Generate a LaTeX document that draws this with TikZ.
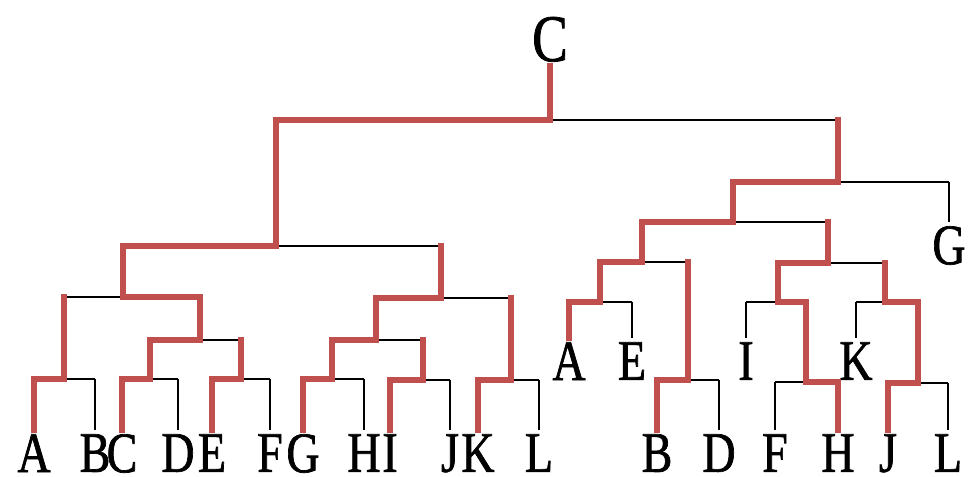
\documentclass[tikz,border=0pt]{standalone}
\usepackage{fontspec}
\newfontfamily\treefont[FakeStretch=0.8, FakeBold=1.2]{Liberation Serif}
\definecolor{pathred}{HTML}{C0504D}
\tikzset{
    lbl/.style={font=\treefont\fontsize{43}{43}\selectfont, inner sep=3pt, anchor=north},
    toplbl/.style={font=\treefont\fontsize{50}{50}\selectfont, inner sep=3pt, anchor=south},
    blackline/.style={black, line width=1.3pt},
    redline/.style={pathred, line width=4.9pt, line cap=rect}
}

\begin{document}
\begin{tikzpicture}[x=0.75pt, y=-0.75pt]
    \useasboundingbox (0,0) rectangle (968,477);
    \node[toplbl] (C) at (550,66) {C};
    \coordinate (j0) at (550,120);
    \coordinate (j1) at (276,246);
    \coordinate (j2) at (123,297);
    \coordinate (j3) at (441,298);
    \coordinate (j4) at (64,379);
    \coordinate (j5) at (200,340);
    \coordinate (j6) at (150,379);
    \coordinate (j7) at (241,379);
    \coordinate (j8) at (376,340);
    \coordinate (j9) at (511,380);
    \coordinate (j10) at (332,379);
    \coordinate (j11) at (423,380);
    \coordinate (jR) at (838,182);
    \coordinate (k1) at (733,222);
    \coordinate (k2) at (642,262);
    \coordinate (k3) at (828,263);
    \coordinate (k4) at (600,302);
    \coordinate (k5) at (688,380);
    \coordinate (k6) at (778,302);
    \coordinate (k7) at (885,302);
    \coordinate (k8) at (806,382);
    \coordinate (k9) at (918,383);

    \node[lbl] (lA) at (34,430) {A};
    \node[lbl] (lB) at (95,430) {B};
    \node[lbl] (lC) at (122,430) {C};
    \node[lbl] (lD) at (178,430) {D};
    \node[lbl] (lE) at (212,430) {E};
    \node[lbl] (lF) at (270,430) {F};
    \node[lbl] (lG) at (303,430) {G};
    \node[lbl] (lH) at (364,430) {H};
    \node[lbl] (lI) at (390,430) {I};
    \node[lbl] (lJ) at (450,430) {J};
    \node[lbl] (lK) at (478,430) {K};
    \node[lbl] (lL) at (539,430) {L};
    \node[lbl] (rG) at (949,222) {G};
    \node[lbl] (rA) at (569,338) {A};
    \node[lbl] (rE) at (632,338) {E};
    \node[lbl] (rI) at (746,338) {I};
    \node[lbl] (rK) at (856,338) {K};
    \node[lbl] (rB) at (657,430) {B};
    \node[lbl] (rD) at (719,430) {D};
    \node[lbl] (rF) at (775,430) {F};
    \node[lbl] (rH) at (838,430) {H};
    \node[lbl] (rJ) at (888,430) {J};
    \node[lbl] (rL) at (948,430) {L};

    \foreach \p/\c/\h/\v in {
        j4/lB/blackline/blackline, j6/lD/blackline/blackline, j7/lF/blackline/blackline,
        j10/lH/blackline/blackline, j11/lJ/blackline/blackline, j9/lL/blackline/blackline,
        jR/rG/blackline/blackline, k4/rE/blackline/blackline, k5/rD/blackline/blackline,
        k6/rI/blackline/blackline, k8/rF/blackline/blackline, k7/rK/blackline/blackline,
        k9/rL/blackline/blackline,
        j0/jR/blackline/redline, j1/j3/blackline/redline, j2/j4/blackline/redline,
        j5/j7/blackline/redline, j3/j9/blackline/redline, j8/j11/blackline/redline,
        k1/k3/blackline/redline, k2/k5/blackline/redline, k3/k7/blackline/redline,
        j0/j1/redline/redline, j1/j2/redline/redline, j2/j5/redline/redline,
        j4/lA/redline/redline, j5/j6/redline/redline, j6/lC/redline/redline,
        j7/lE/redline/redline, j3/j8/redline/redline, j8/j10/redline/redline,
        j10/lG/redline/redline, j11/lI/redline/redline, j9/lK/redline/redline,
        jR/k1/redline/redline, k1/k2/redline/redline, k2/k4/redline/redline,
        k4/rA/redline/redline, k5/rB/redline/redline, k3/k6/redline/redline,
        k6/k8/redline/redline, k8/rH/redline/redline, k7/k9/redline/redline,
        k9/rJ/redline/redline}{
        \draw[\h] (\p) -- (\p -| \c);
        \draw[\v] (\p -| \c) -- (\c);
    }
    \draw[redline] (C) -- (j0);
\end{tikzpicture}
\end{document}
